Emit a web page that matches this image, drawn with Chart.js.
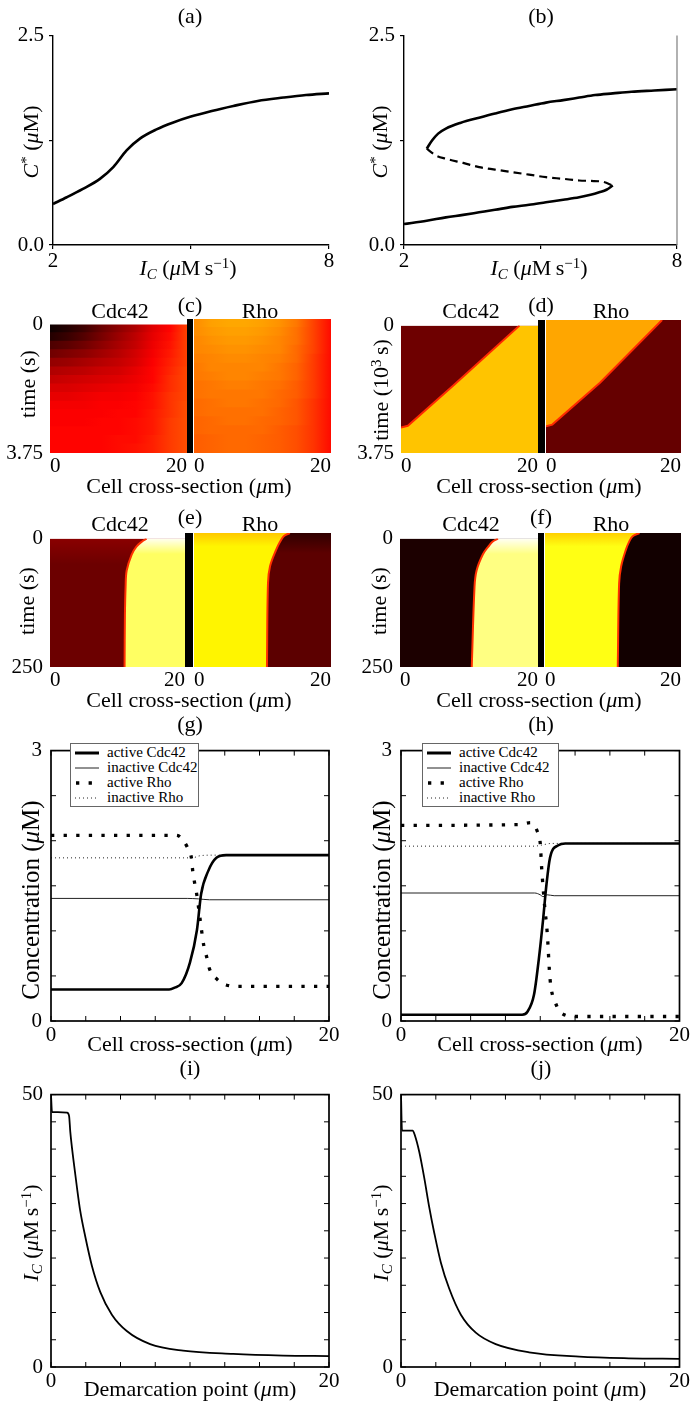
<!DOCTYPE html>
<html><head><meta charset="utf-8">
<script src="https://cdn.jsdelivr.net/npm/chart.js@4.4.1/dist/chart.umd.min.js"></script>
<style>
html,body{margin:0;padding:0;background:#fff;}
#root{position:relative;width:693px;height:1402px;overflow:hidden;font-family:"Liberation Serif","Times New Roman","DejaVu Serif",serif;color:#000;}
.t{position:absolute;white-space:nowrap;transform:translate(-50%,-50%);font-size:22px;line-height:1;}
.rot{transform:translate(-50%,-50%) rotate(-90deg);}
.bar{position:absolute;background:#000;}
.leg{position:absolute;border:1px solid #666;background:#fff;font-size:15px;box-sizing:border-box;padding:1px 0 0 4px;line-height:1;}
.leg .r{height:15px;display:flex;align-items:center;}
.leg svg{margin-right:8px;flex:none;}
sup{font-size:0.68em;vertical-align:0.45em;line-height:0;}
sub{font-size:0.68em;vertical-align:-0.25em;line-height:0;}
</style></head><body><div id="root"></div>
<script>
// ================= DATA =================
// (a) steady state C* vs I_C
const aIc = [2, 2.3, 2.65, 3.02, 3.31, 3.6, 3.89, 4.25, 4.6, 4.98, 5.45, 5.92, 6.45, 7.01, 7.5, 8];
const aC  = [0.49, 0.57, 0.67, 0.79, 0.93, 1.13, 1.27, 1.38, 1.46, 1.53, 1.6, 1.66, 1.72, 1.76, 1.79, 1.81];
// (b) bistable branches
const bUpperIc = [2.5, 2.62, 2.75, 2.92, 3.25, 3.65, 4.0, 4.38, 4.75, 5.12, 5.5, 5.85, 6.2, 6.59, 7.0, 7.5, 8];
const bUpperC  = [1.15, 1.25, 1.33, 1.39, 1.46, 1.52, 1.57, 1.62, 1.66, 1.70, 1.73, 1.76, 1.79, 1.81, 1.83, 1.845, 1.86];
const bMidIc = [2.5, 2.7, 2.92, 3.3, 3.65, 4.0, 4.38, 4.75, 5.12, 5.5, 5.85, 6.1, 6.37, 6.59];
const bMidC  = [1.15, 1.07, 1.03, 0.98, 0.93, 0.9, 0.87, 0.84, 0.81, 0.79, 0.77, 0.765, 0.755, 0.71];
const bLowerIc = [2, 2.5, 2.92, 3.3, 3.65, 4.0, 4.38, 4.75, 5.12, 5.5, 5.85, 6.1, 6.29, 6.45, 6.59];
const bLowerC  = [0.25, 0.29, 0.33, 0.36, 0.39, 0.42, 0.455, 0.48, 0.51, 0.54, 0.57, 0.6, 0.63, 0.66, 0.71];

// tick values / labels
const abIcTicks = [2, 5, 8];         const abIcLabels = ['2', '', '8'];
const abCTicks  = [0, 1.25, 2.5];    const abCLabels  = ['0.0', '', '2.5'];
const cellRange = [0, 20];           const cellLabels = ['0', '20'];
const cdTimeTicks = [0, 3.75];       const cdTimeLabels = ['0', '3.75'];
const efTimeTicks = [0, 250];        const efTimeLabels = ['0', '250'];
const ghXTicks = [0, 2.5, 5, 7.5, 10, 12.5, 15, 17.5, 20];
const ghXLabels = ['0', '', '', '', '', '', '', '', '20'];
const ghYTicks = [0, 0.5, 1, 1.5, 2, 2.5, 3];
const ghYLabels = ['0', '', '', '', '', '', '3'];
const ijYTicks = [0, 5, 10, 15, 20, 25, 30, 35, 40, 45, 50];
const ijYLabels = ['0', '', '', '', '', '', '', '', '', '', '50'];

// (c) kymograph intensities (0..1 on the "hot" scale), rows = time, cols = position
const hmCols = [0, 2.5, 5, 7.5, 10, 12.5, 15, 17.5, 20];
const cRowTimes = [0, 0.25, 0.5, 0.75, 1, 1.25, 1.5, 1.75, 2, 2.25, 2.5, 2.75, 3, 3.25, 3.5];
const cCdc42 = [
  [0.02,0.05,0.09,0.15,0.20,0.25,0.32,0.37,0.46],
  [0.05,0.08,0.12,0.17,0.22,0.27,0.33,0.38,0.46],
  [0.11,0.13,0.16,0.20,0.24,0.28,0.34,0.39,0.46],
  [0.16,0.18,0.20,0.23,0.26,0.30,0.35,0.40,0.46],
  [0.21,0.22,0.24,0.26,0.28,0.31,0.36,0.41,0.46],
  [0.25,0.26,0.27,0.29,0.30,0.33,0.37,0.42,0.47],
  [0.28,0.29,0.30,0.31,0.32,0.34,0.37,0.43,0.47],
  [0.31,0.31,0.32,0.33,0.34,0.35,0.38,0.43,0.47],
  [0.33,0.33,0.34,0.35,0.35,0.36,0.39,0.44,0.47],
  [0.35,0.35,0.35,0.36,0.36,0.37,0.39,0.44,0.48],
  [0.36,0.36,0.36,0.36,0.37,0.37,0.40,0.44,0.48],
  [0.36,0.36,0.36,0.37,0.37,0.38,0.40,0.45,0.48],
  [0.37,0.37,0.37,0.37,0.37,0.38,0.40,0.45,0.48],
  [0.37,0.37,0.37,0.37,0.38,0.38,0.41,0.45,0.48],
  [0.37,0.37,0.37,0.37,0.38,0.39,0.41,0.45,0.48]
];
const cRho = [
  [0.57,0.60,0.61,0.61,0.60,0.58,0.54,0.46,0.38],
  [0.57,0.59,0.60,0.60,0.59,0.57,0.53,0.46,0.38],
  [0.56,0.58,0.59,0.59,0.58,0.56,0.53,0.46,0.38],
  [0.56,0.57,0.58,0.58,0.57,0.56,0.52,0.46,0.38],
  [0.55,0.56,0.57,0.57,0.56,0.55,0.52,0.45,0.38],
  [0.54,0.56,0.56,0.56,0.56,0.54,0.51,0.45,0.38],
  [0.54,0.55,0.56,0.56,0.55,0.54,0.51,0.45,0.38],
  [0.53,0.54,0.55,0.55,0.54,0.53,0.50,0.45,0.38],
  [0.53,0.54,0.54,0.54,0.54,0.52,0.50,0.45,0.38],
  [0.52,0.53,0.54,0.54,0.53,0.52,0.49,0.44,0.38],
  [0.52,0.53,0.53,0.53,0.53,0.51,0.49,0.44,0.38],
  [0.51,0.52,0.53,0.53,0.52,0.51,0.49,0.44,0.38],
  [0.51,0.52,0.52,0.52,0.52,0.50,0.48,0.44,0.38],
  [0.50,0.51,0.52,0.52,0.51,0.50,0.48,0.44,0.38],
  [0.50,0.51,0.52,0.52,0.51,0.50,0.48,0.44,0.38]
];
// (d) travelling fronts: position (um) vs time (10^3 s); last point extends the front along t = 0
const dCdcX = [0, 1.0, 7.6, 17.3, 20];   const dCdcT = [3.0, 2.95, 1.77, 0, 0];
const dRhoX = [0, 0.93, 8.0, 17.2, 20];  const dRhoT = [3.0, 2.95, 1.77, 0, 0];
// (e),(f) stalled fronts: position (um) vs time (s)
const eCdcX = [11.05, 11.1, 11.2, 11.36, 12.1, 12.8, 13.6, 14.3, 20];
const eCdcT = [250, 150, 94, 62, 31, 15.6, 6, 0, 0];
const eRhoX = [10.65, 10.8, 11.1, 12.0, 12.6, 13.1, 14.0, 20];
const eRhoT = [250, 94, 62, 31, 15.6, 6, 0, 0];
const fCdcX = [10.4, 10.8, 11.1, 12.0, 12.8, 13.4, 14.2, 20];
const fCdcT = [250, 94, 62, 31, 15.6, 6, 0, 0];
const fRhoX = [10.7, 10.9, 11.2, 11.9, 12.4, 12.9, 13.9, 20];
const fRhoT = [250, 94, 62, 31, 15.6, 6, 0, 0];

// (g) profiles
const gActCdcX = [0, 8.5, 8.9, 9.4, 10, 10.5, 10.8, 11.3, 11.9, 12.6, 20];
const gActCdcY = [0.35, 0.35, 0.37, 0.42, 0.65, 1.01, 1.41, 1.66, 1.81, 1.84, 1.84];
const gInCdcX = [0, 9.8, 10.6, 11.4, 20];
const gInCdcY = [1.36, 1.36, 1.355, 1.345, 1.345];
const gActRhoX = [0, 9.0, 9.3, 9.8, 10.1, 10.2, 10.5, 10.7, 11.0, 11.2, 11.4, 11.9, 12.6, 13.5, 20];
const gActRhoY = [2.06, 2.06, 2.04, 1.93, 1.81, 1.66, 1.39, 1.16, 0.83, 0.71, 0.58, 0.47, 0.40, 0.385, 0.385];
const gInRhoX = [0, 9.5, 10.2, 10.6, 11.5, 20];
const gInRhoY = [1.81, 1.81, 1.81, 1.83, 1.84, 1.84];
// (h) profiles
const hActCdcX = [0, 8.7, 9.07, 9.55, 9.9, 10.2, 10.45, 10.7, 11.3, 11.8, 20];
const hActCdcY = [0.07, 0.07, 0.1, 0.29, 0.69, 1.12, 1.52, 1.81, 1.95, 1.97, 1.97];
const hInCdcX = [0, 9.6, 10.0, 10.2, 10.5, 11.0, 20];
const hInCdcY = [1.42, 1.42, 1.40, 1.38, 1.40, 1.39, 1.39];
const hActRhoX = [0, 8.5, 9.3, 9.8, 10.0, 10.1, 10.3, 10.5, 10.7, 11.1, 11.6, 12.5, 20];
const hActRhoY = [2.17, 2.18, 2.2, 2.1, 1.97, 1.70, 1.30, 0.98, 0.47, 0.2, 0.08, 0.05, 0.05];
const hInRhoX = [0, 9.6, 10.2, 10.8, 20];
const hInRhoY = [1.94, 1.94, 1.955, 1.97, 1.97];
// (i),(j) I_C vs demarcation point
const iX = [0, 0.07, 0.5, 1.15, 1.3, 1.39, 1.63, 1.87, 2.1, 2.46, 2.94, 3.54, 4.38, 5.45, 7.13, 9.5, 13.1, 16.7, 20];
const iY = [50, 46.8, 46.8, 46.7, 46.1, 43.1, 37.7, 32.9, 28.7, 24.0, 18.6, 13.8, 9.6, 6.6, 4.2, 3.0, 2.4, 2.1, 2.0];
const jX = [0, 0.07, 0.5, 0.84, 1.0, 1.31, 1.67, 2.03, 2.39, 2.86, 3.46, 4.3, 5.37, 6.8, 9.19, 12.8, 16.35, 20];
const jY = [50, 43.4, 43.4, 43.4, 42.5, 39.5, 34.7, 29.3, 24.6, 19.2, 14.4, 9.6, 6.3, 4.2, 2.7, 1.9, 1.6, 1.5];

// ================= SETUP =================
Chart.defaults.font.family = '"Liberation Serif", "Times New Roman", "DejaVu Serif", serif';
Chart.defaults.font.size = 21;
Chart.defaults.color = '#000';

const root = document.getElementById('root');
const pts = (xs, ys) => xs.map((x, i) => ({x, y: ys[i]}));

function hot(v) {
  const r = Math.min(1, Math.max(0, v / 0.365));
  const g = Math.min(1, Math.max(0, (v - 0.365) / 0.375));
  const b = Math.min(1, Math.max(0, (v - 0.74) / 0.26));
  return `rgb(${Math.round(r*255)},${Math.round(g*255)},${Math.round(b*255)})`;
}

const framePlugin = {
  id: 'frame',
  afterDatasetsDraw(chart, args, o) {
    if (!o || !o.mode) return;
    const {ctx, chartArea: a} = chart;
    ctx.save();
    if (o.mode === 'right') {
      ctx.strokeStyle = o.color; ctx.lineWidth = 1.3;
      ctx.beginPath(); ctx.moveTo(a.right, a.top); ctx.lineTo(a.right, a.bottom); ctx.stroke();
    } else {
      const xs = chart.scales.x, ys = chart.scales.y, L = o.len;
      ctx.strokeStyle = '#000'; ctx.lineWidth = 1;
      ctx.beginPath();
      xs.ticks.forEach(t => { const p = xs.getPixelForValue(t.value);
        ctx.moveTo(p, a.bottom); ctx.lineTo(p, a.bottom - L); ctx.moveTo(p, a.top); ctx.lineTo(p, a.top + L); });
      ys.ticks.forEach(t => { const p = ys.getPixelForValue(t.value);
        ctx.moveTo(a.left, p); ctx.lineTo(a.left + L, p); ctx.moveTo(a.right, p); ctx.lineTo(a.right - L, p); });
      ctx.stroke();
      ctx.lineWidth = 1.7;
      ctx.strokeRect(a.left, a.top, a.right - a.left, a.bottom - a.top);
    }
    ctx.restore();
  }
};
Chart.register(framePlugin);

function mount(area, pad) {
  const d = document.createElement('div');
  d.style.cssText = `position:absolute;left:${area.l-pad.l}px;top:${area.t-pad.t}px;width:${area.r-area.l+pad.l+pad.r}px;height:${area.b-area.t+pad.t+pad.b}px;`;
  const c = document.createElement('canvas');
  d.appendChild(c); root.appendChild(d);
  return c;
}

function makeChart(area, pad, type, data, scales, plugins, extra) {
  const cv = mount(area, pad);
  for (const id of Object.keys(scales)) {
    const s = scales[id];
    if (s.display === false) continue;
    if (id[0] === 'x') s.afterFit = sc => { sc.height = pad.b; };
    else s.afterFit = sc => { sc.width = pad.l; };
  }
  return new Chart(cv, {
    type, data,
    options: Object.assign({
      responsive: true, maintainAspectRatio: false, animation: false, events: [],
      layout: {padding: {left: 0, top: pad.t, right: pad.r, bottom: 0}},
      plugins: Object.assign({legend: {display: false}, tooltip: {enabled: false}}, plugins || {}),
      scales
    }, extra || {})
  });
}

function lin(min, max, vals, labels, o) {
  return {
    type: 'linear', min, max, reverse: !!o.reverse, display: o.display !== false, offset: false,
    afterBuildTicks: s => { s.ticks = vals.map(v => ({value: v})); },
    ticks: {autoSkip: false, maxRotation: 0, minRotation: 0, padding: o.pad, align: o.align || 'center',
            callback: (v, i) => labels[i]},
    grid: o.outTicks ? {display: true, drawOnChartArea: false, drawTicks: true, tickLength: 4, color: '#000', lineWidth: 1.2, offset: false}
                     : {display: false, drawTicks: false, offset: false},
    border: o.outTicks ? {display: true, color: '#000', width: 1.4} : {display: false}
  };
}

function txt(html, x, y, opts) {
  opts = opts || {};
  const s = document.createElement('div');
  s.className = 't' + (opts.rot ? ' rot' : '');
  s.style.left = x + 'px'; s.style.top = y + 'px';
  if (opts.size) s.style.fontSize = opts.size + 'px';
  s.innerHTML = html;
  root.appendChild(s);
}
function bar(l, t, r, b) {
  const d = document.createElement('div'); d.className = 'bar';
  d.style.cssText = `left:${l}px;top:${t}px;width:${r-l}px;height:${b-t}px;`;
  root.appendChild(d);
}

// ================= (a) & (b) =================
const lineDs = (data, o) => Object.assign({data, borderColor: '#000', borderWidth: 2.6, pointRadius: 0,
  fill: false, cubicInterpolationMode: 'monotone'}, o || {});

makeChart({l:53, t:34, r:329, b:245}, {l:53, t:16, r:14, b:30}, 'line',
  {datasets: [lineDs(pts(aIc, aC))]},
  {x: lin(2, 8, abIcTicks, abIcLabels, {outTicks: true, pad: 0}),
   y: lin(0, 2.5, abCTicks, abCLabels, {outTicks: true, pad: 5})});

makeChart({l:404, t:34, r:677, b:245}, {l:50, t:16, r:14, b:30}, 'line',
  {datasets: [lineDs(pts(bUpperIc, bUpperC)),
              lineDs(pts(bMidIc, bMidC), {borderDash: [8, 5], borderWidth: 2.2}),
              lineDs(pts(bLowerIc, bLowerC))]},
  {x: lin(2, 8, abIcTicks, abIcLabels, {outTicks: true, pad: 0}),
   y: lin(0, 2.5, abCTicks, abCLabels, {outTicks: true, pad: 5})},
  {frame: {mode: 'right', color: '#888'}});

// ================= (c) kymograph =================
function rowHeat(area, pad, rows, showY) {
  const x0 = hmCols[0], x1 = hmCols[hmCols.length - 1];
  const grad = (ctx) => {
    const ch = ctx.chart;
    if (!ch.chartArea || ctx.dataIndex === undefined) return 'rgba(0,0,0,0)';
    const xs = ch.scales.x;
    const g = ch.ctx.createLinearGradient(xs.getPixelForValue(x0), 0, xs.getPixelForValue(x1), 0);
    hmCols.forEach((c, k) => g.addColorStop((c - x0) / (x1 - x0), hot(rows[ctx.dataIndex][k])));
    return g;
  };
  return makeChart(area, pad, 'bar',
    {labels: cRowTimes.map(String),
     datasets: [{data: cRowTimes.map(() => [x0, x1]), backgroundColor: grad, borderColor: grad, borderWidth: 0,
                 inflateAmount: 1, barPercentage: 1, categoryPercentage: 1, xAxisID: 'x', yAxisID: 'yc'}]},
    {x: lin(x0, x1, cellRange, cellLabels, {pad: 1, align: 'inner'}),
     yc: {type: 'category', axis: 'y', display: false, offset: true},
     y: lin(cdTimeTicks[0], cdTimeTicks[1], cdTimeTicks, cdTimeLabels, {pad: 7, reverse: true, display: showY})},
    null, {indexAxis: 'y'});
}
rowHeat({l:50, t:319, r:187, b:453}, {l:50, t:14, r:2, b:28}, cCdc42, true);
rowHeat({l:193, t:319, r:331, b:453}, {l:0, t:14, r:2, b:28}, cRho, false);
bar(187, 319, 193, 453);

// ================= (d),(e),(f) fronts =================
function vgrad(top, base, frac) {
  return (ctx) => {
    const a = ctx.chart.chartArea; if (!a) return base;
    const g = ctx.chart.ctx.createLinearGradient(0, a.top, 0, a.bottom);
    g.addColorStop(0, top); g.addColorStop(frac, base); g.addColorStop(1, base);
    return g;
  };
}
function frontHeat(area, pad, T, tTicks, tLabels, xs, ts, bgCol, regCol, edge, showY, tension) {
  const n = xs.length - 1; // last point only extends the region along t = 0 (no edge drawn there)
  return makeChart(area, pad, 'line',
    {datasets: [
      {data: pts(xs.slice(0, n), ts.slice(0, n)), fill: false, borderColor: edge, borderWidth: 2,
       pointRadius: 0, tension, order: 0},
      {data: pts(xs, ts), fill: {value: T}, backgroundColor: regCol, borderWidth: 0,
       pointRadius: 0, tension, order: 1},
      {data: cellRange.map(x => ({x, y: 0})), fill: {value: T}, backgroundColor: bgCol, borderWidth: 0,
       pointRadius: 0, order: 2}
    ]},
    {x: lin(cellRange[0], cellRange[1], cellRange, cellLabels, {pad: 1, align: 'inner'}),
     y: lin(0, T, tTicks, tLabels, {pad: 7, reverse: true, display: showY})});
}
const padL = {l:50, t:14, r:2, b:28}, padR = {l:0, t:14, r:2, b:28};
// (d)
frontHeat({l:401, t:320, r:538, b:453}, padL, 3.75, cdTimeTicks, cdTimeLabels, dCdcX, dCdcT,
  '#6e0000', '#ffc400', '#ff2a00', true, 0);
frontHeat({l:545, t:320, r:681, b:453}, padR, 3.75, cdTimeTicks, cdTimeLabels, dRhoX, dRhoT,
  '#ffa600', '#650000', '#ff2a00', false, 0);
bar(538, 320, 545, 453);
// (e)
frontHeat({l:50, t:533, r:185, b:667}, padL, 250, efTimeTicks, efTimeLabels, eCdcX, eCdcT,
  vgrad('#8a0000', '#6c0000', 0.2), vgrad('#fffff0', '#ffff62', 0.12), '#ff3000', true, 0.35);
frontHeat({l:193, t:533, r:331, b:667}, padR, 250, efTimeTicks, efTimeLabels, eRhoX, eRhoT,
  vgrad('#ffc800', '#fff500', 0.1), vgrad('#300000', '#5c0000', 0.15), '#ff3000', false, 0.35);
bar(185, 533, 193, 667);
// (f)
frontHeat({l:400, t:533, r:538, b:667}, padL, 250, efTimeTicks, efTimeLabels, fCdcX, fCdcT,
  '#1c0000', vgrad('#fffff4', '#ffff82', 0.12), '#ff3000', true, 0.35);
frontHeat({l:544, t:533, r:681, b:667}, padR, 250, efTimeTicks, efTimeLabels, fRhoX, fRhoT,
  vgrad('#ffd000', '#ffff14', 0.1), '#120000', '#ff3000', false, 0.35);
bar(538, 533, 544, 667);

// ================= (g),(h) profiles =================
function profile(area, pad, aC, iC, aR, iR) {
  return makeChart(area, pad, 'line',
    {datasets: [
      lineDs(aC, {borderWidth: 2.6}),
      lineDs(iC, {borderWidth: 1, borderColor: '#222'}),
      lineDs(aR, {borderWidth: 3.3, borderDash: [3.3, 9.3], borderCapStyle: 'butt'}),
      lineDs(iR, {borderWidth: 1, borderDash: [1, 3], borderColor: '#222'})
    ]},
    {x: lin(0, 20, ghXTicks, ghXLabels, {pad: 2}),
     y: lin(0, 3, ghYTicks, ghYLabels, {pad: 9})},
    {frame: {mode: 'box', len: 5}});
}
profile({l:51, t:743, r:329, b:1021}, {l:51, t:14, r:14, b:26},
  pts(gActCdcX, gActCdcY), pts(gInCdcX, gInCdcY), pts(gActRhoX, gActRhoY), pts(gInRhoX, gInRhoY));
profile({l:401, t:743, r:680, b:1021}, {l:50, t:14, r:12, b:26},
  pts(hActCdcX, hActCdcY), pts(hInCdcX, hInCdcY), pts(hActRhoX, hActRhoY), pts(hInRhoX, hInRhoY));

// ================= (i),(j) =================
function icPlot(area, pad, data) {
  return makeChart(area, pad, 'line',
    {datasets: [lineDs(data, {borderWidth: 1.8})]},
    {x: lin(0, 20, ghXTicks, ghXLabels, {pad: 2}),
     y: lin(0, 50, ijYTicks, ijYLabels, {pad: 8})},
    {frame: {mode: 'box', len: 5}});
}
icPlot({l:51, t:1088, r:329, b:1367}, {l:51, t:14, r:14, b:26}, pts(iX, iY));
icPlot({l:401, t:1088, r:680, b:1367}, {l:50, t:14, r:12, b:26}, pts(jX, jY));

// ================= LEGENDS =================
function legend(l, t, w, h) {
  const d = document.createElement('div'); d.className = 'leg';
  d.style.cssText = `left:${l}px;top:${t}px;width:${w}px;height:${h}px;`;
  const rows = [
    ['active Cdc42', '<line x1="0" y1="5" x2="24" y2="5" stroke="#000" stroke-width="3"/>'],
    ['inactive Cdc42', '<line x1="0" y1="5" x2="24" y2="5" stroke="#222" stroke-width="1"/>'],
    ['active Rho', '<line x1="1" y1="5" x2="24" y2="5" stroke="#000" stroke-width="3.3" stroke-dasharray="3.3 9.3"/>'],
    ['inactive Rho', '<line x1="0" y1="5" x2="24" y2="5" stroke="#222" stroke-width="1" stroke-dasharray="1 3"/>']
  ];
  d.innerHTML = rows.map(r => `<div class="r"><svg width="24" height="10">${r[1]}</svg><span>${r[0]}</span></div>`).join('');
  root.appendChild(d);
}
legend(70, 743, 129, 64);
legend(422, 743, 137, 64);

// ================= TEXT =================
const mu = '<i>μ</i>';
const IC = `<i>I</i><sub><i>C</i></sub>&nbsp;(${mu}M&thinsp;s<sup>−1</sup>)`;
const Cst = `<i>C</i><sup>*</sup>&nbsp;(${mu}M)`;
const cell = `Cell cross-section (${mu}m)`;
txt('(a)', 190, 16); txt('(b)', 541, 16);
txt(Cst, 31, 142, {rot: true}); txt(Cst, 380, 142, {rot: true});
txt(IC, 188, 268); txt(IC, 539, 268);

txt('(c)', 190, 305); txt('(d)', 541, 305);
txt('Cdc42', 120, 311); txt('Rho', 260, 311);
txt('Cdc42', 471, 311); txt('Rho', 611, 311);
txt('time (s)', 28, 384, {rot: true});
txt('time (10<sup>3</sup>&thinsp;s)', 381, 390, {rot: true});
txt(cell, 189, 486); txt(cell, 539, 486);

txt('(e)', 190, 517); txt('(f)', 541, 517);
txt('Cdc42', 120, 524); txt('Rho', 260, 524);
txt('Cdc42', 471, 524); txt('Rho', 611, 524);
txt('time (s)', 27, 601, {rot: true}); txt('time (s)', 379, 601, {rot: true});
txt(cell, 189, 700); txt(cell, 539, 700);

txt('(g)', 190, 724); txt('(h)', 541, 724);
txt(`Concentration (${mu}M)`, 30, 900, {rot: true, size: 25});
txt(`Concentration (${mu}M)`, 381, 900, {rot: true, size: 25});
txt(cell, 190, 1044); txt(cell, 540, 1044);

txt('(i)', 190, 1068); txt('(j)', 541, 1068);
txt(IC, 31, 1233, {rot: true}); txt(IC, 381, 1233, {rot: true});
txt(`Demarcation point (${mu}m)`, 190, 1389); txt(`Demarcation point (${mu}m)`, 540, 1389);
</script></body></html>
